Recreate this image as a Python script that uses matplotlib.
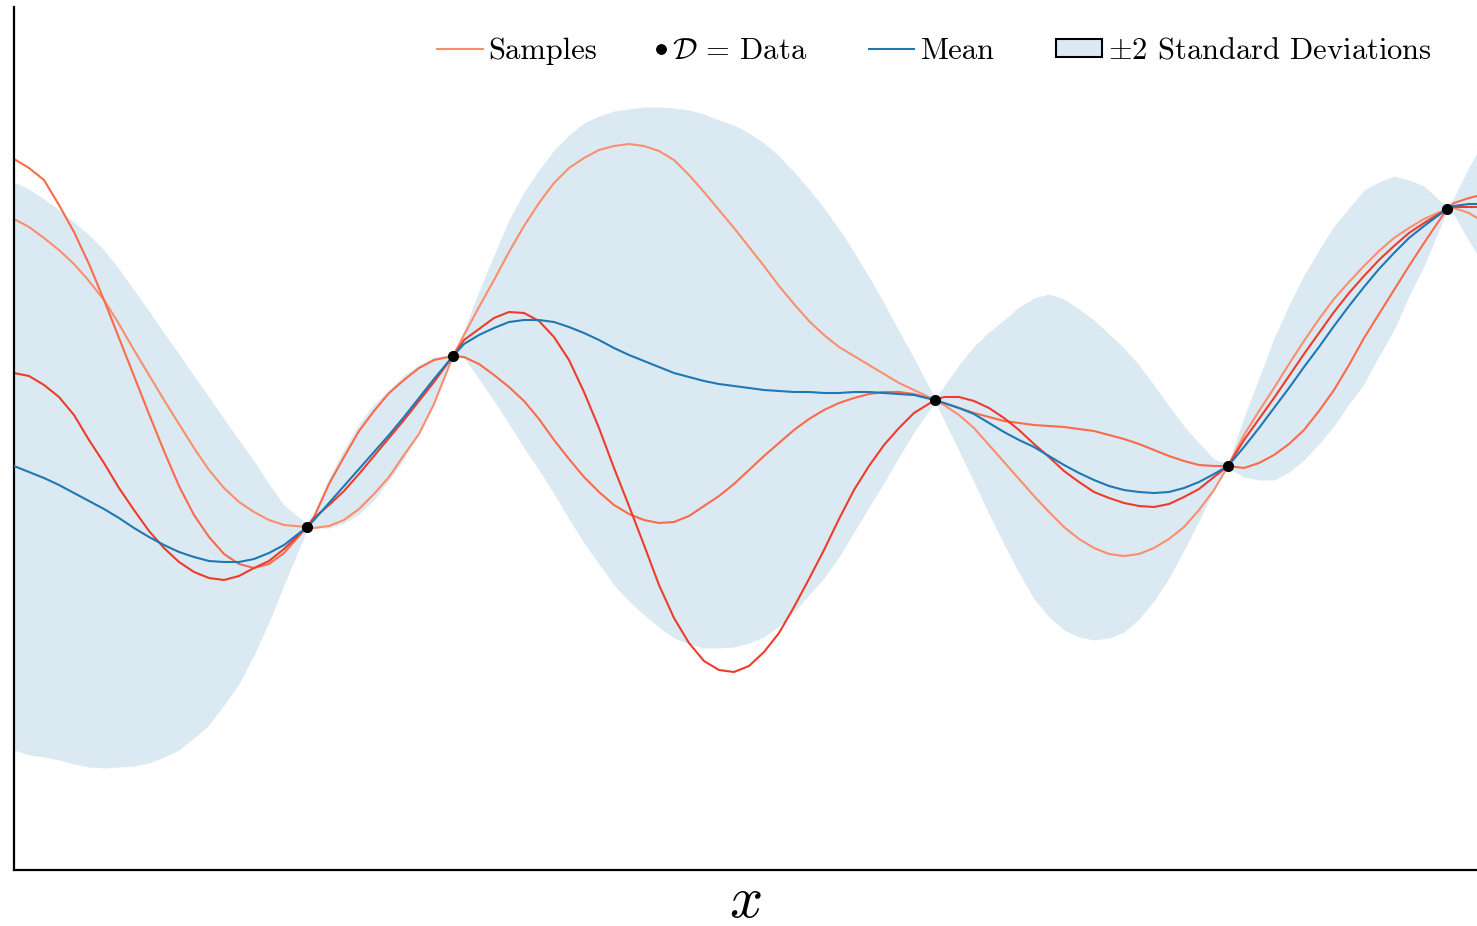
import numpy as np
import matplotlib
matplotlib.use("Agg")
import matplotlib.pyplot as plt
from matplotlib.lines import Line2D
from matplotlib.patches import Patch
from matplotlib.legend_handler import HandlerLine2D

plt.rcParams.update({
    "font.family": "serif",
    "font.serif": ["cmr10"],
    "mathtext.fontset": "cm",
    "axes.unicode_minus": False,
})

# input grid
x = np.array([0.00, 0.15, 0.30, 0.45, 0.60, 0.75, 0.90, 1.05, 1.20, 1.35,
              1.50, 1.65, 1.80, 1.95, 2.10, 2.25, 2.40, 2.55, 2.70, 2.93,
              3.00, 3.15, 3.30, 3.45, 3.60, 3.75, 3.90, 4.05, 4.20, 4.39,
              4.50, 4.65, 4.80, 4.95, 5.10, 5.25, 5.40, 5.55, 5.70, 5.85,
              6.00, 6.15, 6.30, 6.45, 6.60, 6.75, 6.90, 7.05, 7.20, 7.35,
              7.50, 7.65, 7.80, 7.95, 8.10, 8.25, 8.40, 8.55, 8.70, 8.85,
              9.00, 9.21, 9.30, 9.45, 9.60, 9.75, 9.90, 10.05, 10.20, 10.35,
              10.50, 10.65, 10.80, 10.95, 11.10, 11.25, 11.40, 11.55, 11.70, 11.85,
              12.00, 12.14, 12.30, 12.45, 12.60, 12.75, 12.90, 13.05, 13.20, 13.35,
              13.50, 13.65, 13.80, 13.95, 14.10, 14.33, 14.40, 14.55, 14.63])

# posterior mean
mean = np.array([4.04, 3.98, 3.92, 3.85, 3.77, 3.69, 3.61, 3.52, 3.42, 3.33,
                 3.25, 3.18, 3.13, 3.09, 3.08, 3.08, 3.11, 3.17, 3.25, 3.43,
                 3.50, 3.67, 3.84, 4.01, 4.18, 4.35, 4.53, 4.72, 4.91, 5.14,
                 5.26, 5.35, 5.42, 5.48, 5.50, 5.50, 5.48, 5.43, 5.37, 5.30,
                 5.22, 5.15, 5.09, 5.03, 4.97, 4.93, 4.89, 4.86, 4.84, 4.82,
                 4.80, 4.79, 4.78, 4.78, 4.77, 4.77, 4.78, 4.78, 4.77, 4.76,
                 4.75, 4.70, 4.67, 4.62, 4.56, 4.47, 4.38, 4.30, 4.23, 4.14,
                 4.05, 3.97, 3.90, 3.84, 3.80, 3.78, 3.77, 3.78, 3.82, 3.88,
                 3.96, 4.04, 4.23, 4.42, 4.62, 4.82, 5.03, 5.23, 5.44, 5.64,
                 5.83, 6.01, 6.17, 6.32, 6.44, 6.61, 6.64, 6.66, 6.66])

# mean +/- 2 std
band_hi = np.array([6.88, 6.81, 6.71, 6.60, 6.48, 6.35, 6.20, 6.01, 5.80, 5.59,
                    5.37, 5.16, 4.94, 4.73, 4.51, 4.30, 4.09, 3.86, 3.65, 3.46,
                    3.58, 3.92, 4.21, 4.46, 4.66, 4.80, 4.95, 5.05, 5.13, 5.16,
                    5.40, 5.79, 6.15, 6.50, 6.78, 7.00, 7.20, 7.35, 7.47, 7.54,
                    7.59, 7.61, 7.63, 7.63, 7.62, 7.60, 7.56, 7.50, 7.45, 7.37,
                    7.27, 7.14, 6.98, 6.81, 6.62, 6.41, 6.18, 5.93, 5.67, 5.39,
                    5.12, 4.72, 4.84, 5.05, 5.24, 5.38, 5.50, 5.63, 5.72, 5.76,
                    5.71, 5.61, 5.50, 5.36, 5.22, 5.05, 4.85, 4.64, 4.44, 4.27,
                    4.11, 4.06, 4.53, 4.92, 5.32, 5.65, 5.95, 6.20, 6.44, 6.62,
                    6.80, 6.88, 6.94, 6.90, 6.84, 6.63, 6.73, 7.03, 7.17])
band_lo = np.array([1.20, 1.15, 1.13, 1.10, 1.06, 1.03, 1.02, 1.03, 1.04, 1.07,
                    1.13, 1.20, 1.32, 1.45, 1.65, 1.86, 2.15, 2.48, 2.85, 3.40,
                    3.42, 3.42, 3.47, 3.56, 3.70, 3.90, 4.11, 4.39, 4.69, 5.12,
                    5.12, 4.91, 4.69, 4.46, 4.22, 4.00, 3.76, 3.51, 3.27, 3.06,
                    2.85, 2.69, 2.55, 2.43, 2.32, 2.26, 2.22, 2.22, 2.23, 2.27,
                    2.33, 2.44, 2.58, 2.75, 2.92, 3.13, 3.38, 3.63, 3.87, 4.13,
                    4.38, 4.68, 4.50, 4.19, 3.88, 3.56, 3.26, 2.97, 2.71, 2.53,
                    2.40, 2.33, 2.30, 2.32, 2.38, 2.51, 2.69, 2.92, 3.20, 3.49,
                    3.81, 4.02, 3.93, 3.90, 3.90, 3.98, 4.10, 4.26, 4.44, 4.66,
                    4.86, 5.14, 5.40, 5.74, 6.04, 6.59, 6.55, 6.29, 6.16])

# posterior samples
sample_a = np.array([6.51, 6.43, 6.32, 6.20, 6.06, 5.89, 5.70, 5.46, 5.20, 4.95,
                     4.70, 4.46, 4.22, 4.00, 3.82, 3.68, 3.58, 3.50, 3.45, 3.43,
                     3.42, 3.44, 3.50, 3.61, 3.76, 3.93, 4.15, 4.36, 4.66, 5.14,
                     5.35, 5.63, 5.90, 6.18, 6.44, 6.67, 6.87, 7.02, 7.12, 7.20,
                     7.24, 7.26, 7.24, 7.19, 7.10, 6.95, 6.78, 6.60, 6.42, 6.23,
                     6.04, 5.84, 5.66, 5.49, 5.35, 5.23, 5.14, 5.05, 4.96, 4.87,
                     4.80, 4.70, 4.65, 4.55, 4.42, 4.25, 4.08, 3.91, 3.74, 3.58,
                     3.43, 3.31, 3.22, 3.16, 3.14, 3.16, 3.22, 3.31, 3.43, 3.60,
                     3.80, 4.04, 4.35, 4.59, 4.82, 5.06, 5.29, 5.51, 5.71, 5.88,
                     6.04, 6.19, 6.32, 6.42, 6.51, 6.61, 6.62, 6.57, 6.52])
sample_b = np.array([7.11, 7.02, 6.90, 6.65, 6.38, 6.06, 5.70, 5.32, 4.94, 4.56,
                     4.19, 3.84, 3.55, 3.33, 3.16, 3.06, 3.02, 3.06, 3.17, 3.43,
                     3.53, 3.86, 4.13, 4.39, 4.59, 4.77, 4.90, 5.02, 5.10, 5.14,
                     5.13, 5.06, 4.95, 4.83, 4.69, 4.51, 4.30, 4.11, 3.93, 3.78,
                     3.65, 3.56, 3.50, 3.47, 3.48, 3.54, 3.64, 3.74, 3.86, 4.00,
                     4.14, 4.27, 4.40, 4.51, 4.60, 4.67, 4.72, 4.76, 4.78, 4.78,
                     4.76, 4.70, 4.67, 4.62, 4.57, 4.53, 4.49, 4.47, 4.45, 4.44,
                     4.43, 4.41, 4.39, 4.35, 4.31, 4.26, 4.20, 4.14, 4.09, 4.05,
                     4.04, 4.04, 4.02, 4.07, 4.15, 4.26, 4.40, 4.59, 4.80, 5.05,
                     5.32, 5.56, 5.80, 6.04, 6.27, 6.61, 6.67, 6.72, 6.74])
sample_c = np.array([4.97, 4.94, 4.85, 4.73, 4.55, 4.30, 4.07, 3.82, 3.60, 3.39,
                     3.22, 3.08, 2.98, 2.92, 2.90, 2.94, 3.02, 3.09, 3.21, 3.43,
                     3.52, 3.65, 3.79, 3.96, 4.14, 4.32, 4.50, 4.69, 4.88, 5.14,
                     5.30, 5.41, 5.52, 5.58, 5.57, 5.49, 5.33, 5.10, 4.78, 4.42,
                     4.02, 3.64, 3.25, 2.85, 2.52, 2.27, 2.09, 2.00, 1.98, 2.04,
                     2.18, 2.37, 2.63, 2.91, 3.20, 3.51, 3.80, 4.04, 4.25, 4.42,
                     4.57, 4.70, 4.73, 4.73, 4.69, 4.62, 4.52, 4.40, 4.26, 4.13,
                     3.99, 3.88, 3.78, 3.72, 3.67, 3.64, 3.63, 3.66, 3.73, 3.81,
                     3.93, 4.04, 4.30, 4.51, 4.72, 4.94, 5.16, 5.37, 5.58, 5.77,
                     5.94, 6.10, 6.24, 6.37, 6.47, 6.61, 6.63, 6.63, 6.63])

# observations
data_x = np.array([2.93, 4.39, 9.21, 12.14, 14.33])
data_y = np.array([3.43, 5.14, 4.70, 4.04, 6.61])

band_color = "#dbeaf2"
mean_color = "#1f77b4"
sample_colors = ["#fc8d6d", "#fb6a4a", "#ef3b2c"]


class RightDot(HandlerLine2D):
    # single dot sitting at the right end of the handle box
    def get_xdata(self, legend, xdescent, ydescent, width, height, fontsize):
        p = -xdescent + width - 4
        return np.array([p, p]), np.array([p, p])


fig = plt.figure(figsize=(14.77, 9.26), dpi=100)
ax = fig.add_axes([14 / 1477, 56 / 926, 1463 / 1477, 863 / 926])

ax.fill_between(x, band_lo, band_hi, color=band_color, lw=0, zorder=1)
for ys, c in zip([sample_a, sample_b, sample_c], sample_colors):
    ax.plot(x, ys, color=c, lw=1.5, zorder=2)
ax.plot(x, mean, color=mean_color, lw=1.5, zorder=3)
ax.plot(data_x, data_y, "o", color="k", ms=7, zorder=4)

ax.set_xlim(0, 14.63)
ax.set_ylim(0, 8.63)
ax.set_xticks([])
ax.set_yticks([])
for side in ["top", "right"]:
    ax.spines[side].set_visible(False)
for side in ["left", "bottom"]:
    ax.spines[side].set_linewidth(1.6)
ax.set_xlabel("$x$", fontsize=42, labelpad=5)

leg_kw = dict(loc="upper right", frameon=False, fontsize=22, handlelength=1.5,
              handletextpad=0.2, columnspacing=2.0, handleheight=0.5)
anchor_y = 1 - 3 / 863

h_samples = Line2D([], [], color=sample_colors[0], lw=1.5)
leg_a = ax.legend([h_samples], ["Samples"],
                  bbox_to_anchor=(611 / 1463, anchor_y), **leg_kw)
ax.add_artist(leg_a)

h_data = Line2D([], [], ls="none", marker="o", color="k", ms=6.5)
h_mean = Line2D([], [], color=mean_color, lw=1.5)
h_band = Patch(facecolor=band_color, edgecolor="k", lw=1.5)
ax.legend([h_data, h_mean, h_band],
          [r"$\mathcal{D}$ = Data", "Mean", r"$\pm2$ Standard Deviations"],
          handler_map={h_data: RightDot(numpoints=2)},
          bbox_to_anchor=(1 - 18 / 1463, anchor_y), ncol=3, **leg_kw)

fig.savefig("out.png", dpi=100)
